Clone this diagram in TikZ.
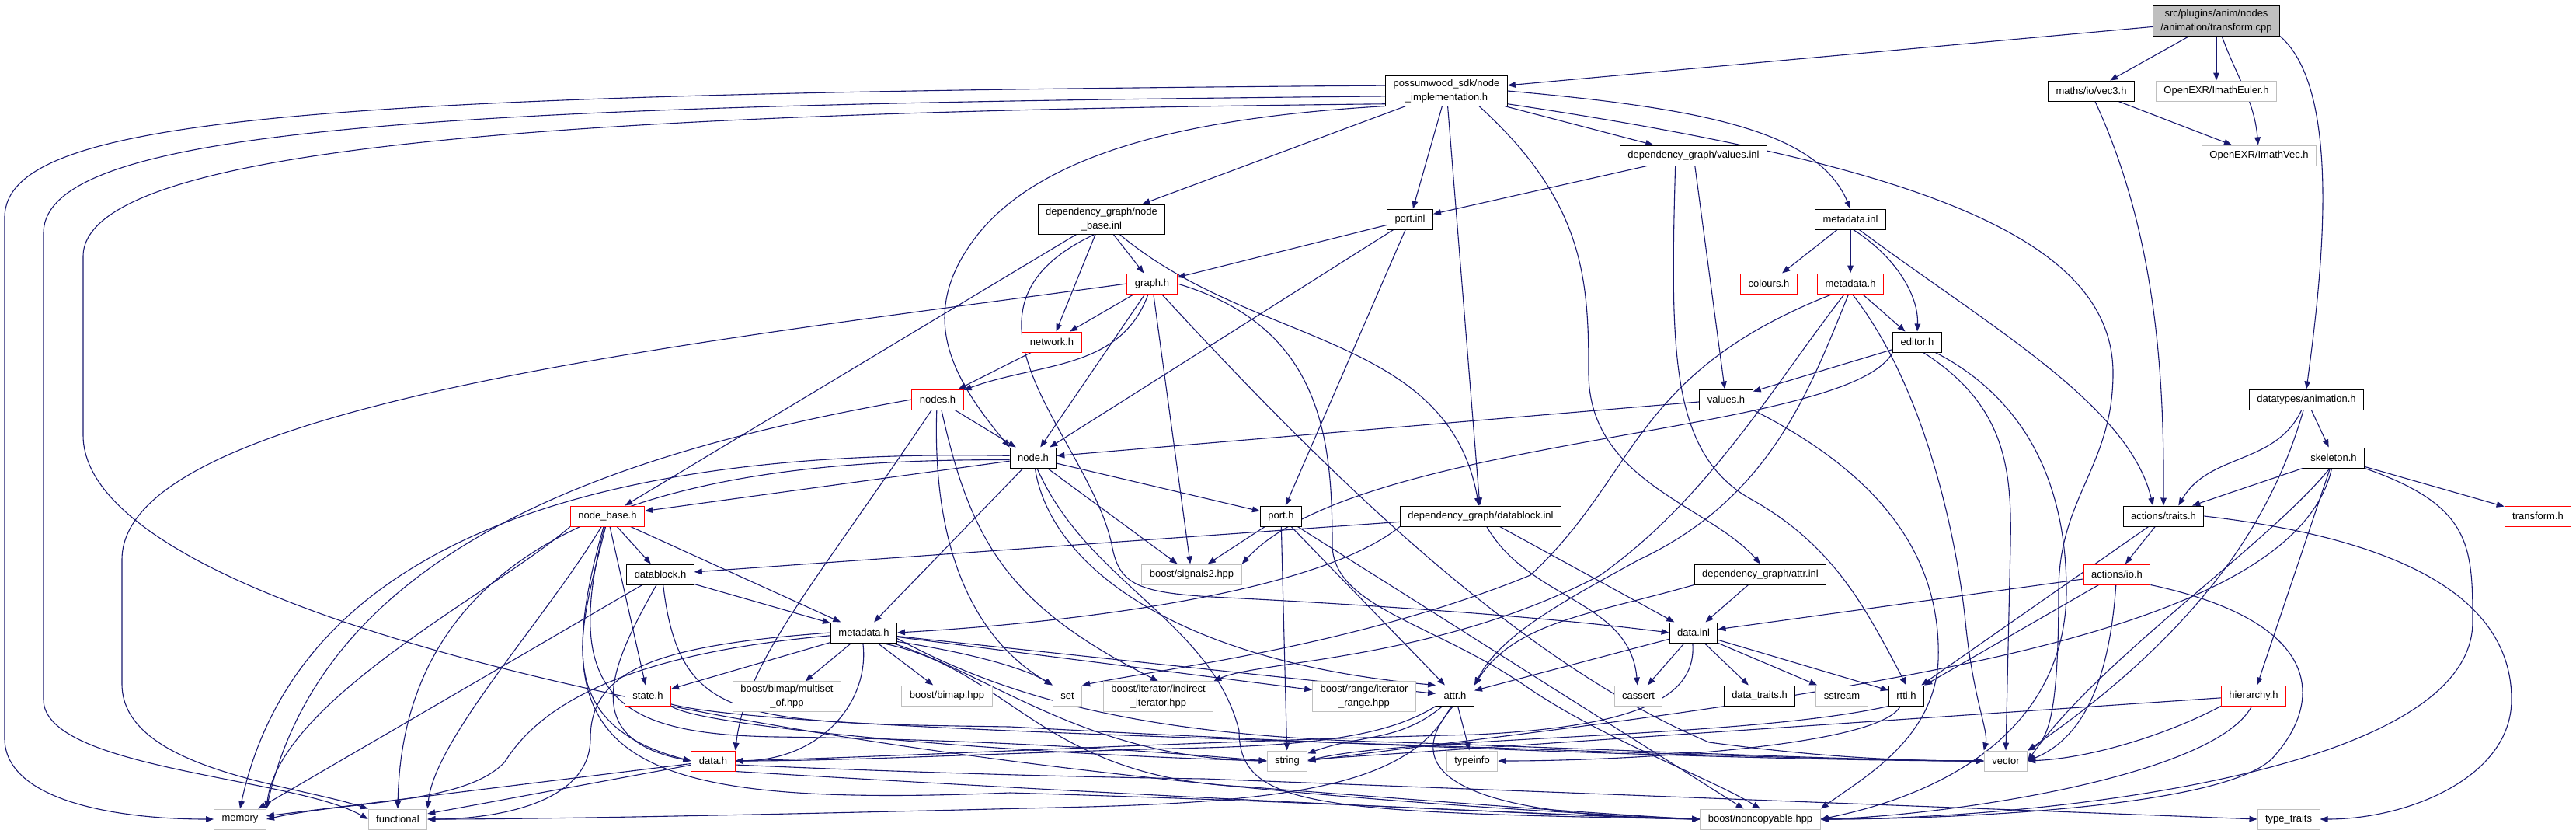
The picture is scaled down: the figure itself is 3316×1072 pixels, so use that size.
\documentclass[tikz,border=0pt]{standalone}
\usepackage{fontspec}
\setmainfont{Liberation Sans}
\usepackage{xcolor}
\usetikzlibrary{arrows.meta}
\definecolor{edge-blue}{HTML}{191970}
\definecolor{sys-gray}{HTML}{BFBFBF}
\definecolor{trunc-red}{HTML}{FF0000}
\pgfdeclarelayer{edges}
\pgfsetlayers{edges,main}

\begin{document}
\begin{tikzpicture}[x=0.5pt, y=0.5pt,
        every node/.style={font=\fontsize{6.5}{9}\selectfont},
        hdr/.style={draw=black, fill=white, line width=0.5pt, inner xsep=5pt,
          inner ysep=2pt, minimum height=13pt, align=center},
        trunc/.style={hdr, draw=trunc-red},
        sys/.style={hdr, draw=sys-gray},
        incl/.style={draw=edge-blue, line width=0.55pt,
          -{Triangle[length=5pt,width=3.8pt]}}]
      \useasboundingbox (0,0) rectangle (3316,-1072);
      % files, one row per rank
      \node[hdr, fill=sys-gray] (root) at (2853,-27) {src/plugins/anim/nodes\\/animation/transform.cpp};
      \node[hdr] (impl) at (1862,-117) {possumwood\_sdk/node\\\_implementation.h};
      \node[hdr] (vec3) at (2692,-117) {maths/io/vec3.h};
      \node[sys] (euler) at (2853,-117) {OpenEXR/ImathEuler.h};
      \node[hdr] (valinl) at (2180,-200) {dependency\_graph/values.inl};
      \node[sys] (imvec) at (2908,-200) {OpenEXR/ImathVec.h};
      \node[hdr] (nbinl) at (1418,-282) {dependency\_graph/node\\\_base.inl};
      \node[hdr] (portinl) at (1815,-282) {port.inl};
      \node[hdr] (metainl) at (2382,-282) {metadata.inl};
      \node[trunc] (graph) at (1483,-365) {graph.h};
      \node[trunc] (colours) at (2277,-365) {colours.h};
      \node[trunc] (sdkmeta) at (2382,-365) {metadata.h};
      \node[trunc] (network) at (1354,-440) {network.h};
      \node[hdr] (editor) at (2468,-440) {editor.h};
      \node[trunc] (nodes) at (1207,-514) {nodes.h};
      \node[hdr] (values) at (2222,-514) {values.h};
      \node[hdr] (anim) at (2969,-514) {datatypes/animation.h};
      \node[hdr] (node) at (1330,-589) {node.h};
      \node[hdr] (skel) at (3004,-589) {skeleton.h};
      \node[trunc] (nodebase) at (782,-664) {node\_base.h};
      \node[hdr] (port) at (1649,-664) {port.h};
      \node[hdr] (dbinl) at (1906,-664) {dependency\_graph/datablock.inl};
      \node[hdr] (traits) at (2785,-664) {actions/traits.h};
      \node[trunc] (xform) at (3267,-664) {transform.h};
      \node[hdr] (datablock) at (850,-739) {datablock.h};
      \node[sys] (signals) at (1534,-739) {boost/signals2.hpp};
      \node[hdr] (attrinl) at (2266,-739) {dependency\_graph/attr.inl};
      \node[trunc] (io) at (2725,-739) {actions/io.h};
      \node[hdr] (meta) at (1112,-814) {metadata.h};
      \node[hdr] (datainl) at (2180,-814) {data.inl};
      \node[trunc] (state) at (834,-895) {state.h};
      \node[sys] (multiset) at (1013,-896) {boost/bimap/multiset\\\_of.hpp};
      \node[sys] (bimap) at (1219,-895) {boost/bimap.hpp};
      \node[sys] (set) at (1374,-895) {set};
      \node[sys] (indirect) at (1491,-896) {boost/iterator/indirect\\\_iterator.hpp};
      \node[sys] (range) at (1756,-896) {boost/range/iterator\\\_range.hpp};
      \node[hdr] (attr) at (1873,-895) {attr.h};
      \node[sys] (cassert) at (2109,-895) {cassert};
      \node[hdr] (dtraits) at (2265,-895) {data\_traits.h};
      \node[sys] (sstream) at (2371,-895) {sstream};
      \node[hdr] (rtti) at (2454,-895) {rtti.h};
      \node[trunc] (hier) at (2901,-895) {hierarchy.h};
      \node[trunc] (data) at (918,-979) {data.h};
      \node[sys] (string) at (1657,-979) {string};
      \node[sys] (typeinfo) at (1895,-979) {typeinfo};
      \node[sys] (vector) at (2582,-979) {vector};
      \node[sys] (memory) at (309,-1054) {memory};
      \node[sys] (functional) at (512,-1054) {functional};
      \node[sys] (noncopy) at (2266,-1054) {boost/noncopyable.hpp};
      \node[sys] (typetraits) at (2946,-1054) {type\_traits};

      \begin{pgfonlayer}{edges}
      \fill[white] (0,0) rectangle (3316,-1072);
      % transform.cpp
      \draw[incl] (root) -- (impl);
      \draw[incl] (root) -- (vec3);
      \draw[incl] (root) -- (euler);
      \draw[incl] (root) to[out=-70,in=95] (imvec);
      \draw[incl] (root.south east) .. controls (3020,-120) and (2985,-380) .. (anim.north);
      \draw[incl] (vec3) -- (imvec);
      \draw[incl] (vec3.-70) .. controls (2775,-300) and (2786,-480) .. (traits.north);
      % node_implementation.h
      \draw[incl] (impl.175) .. controls (400,-120) and (6,-150) .. (6,-280) -- (6,-950)
            .. controls (6,-1030) and (150,-1054) .. (memory.west);
      \draw[incl] (impl.185) .. controls (550,-135) and (56,-165) .. (56,-300) -- (56,-900)
            .. controls (56,-990) and (380,-1000) .. (functional.west);
      \draw[incl] (impl.192) .. controls (700,-145) and (107,-190) .. (107,-330) -- (107,-560)
            .. controls (107,-790) and (1000,-1000) .. (noncopy.west);
      \draw[incl] (impl) -- (nbinl);
      \draw[incl] (impl.south west) .. controls (1550,-150) and (1350,-190) .. (1260,-300)
            .. controls (1180,-400) and (1220,-480) .. (node.north west);
      \draw[incl] (impl) -- (portinl);
      \draw[incl] (impl) -- (dbinl);
      \draw[incl] (impl.-25) .. controls (2040,-260) and (2045,-360) .. (2045,-480)
            .. controls (2045,-620) and (2200,-650) .. (attrinl.north);
      \draw[incl] (impl) -- (valinl);
      \draw[incl] (impl.east) .. controls (2200,-140) and (2340,-170) .. (metainl.north);
      \draw[incl] (impl.-12) .. controls (2450,-210) and (2720,-300) .. (2720,-480)
            .. controls (2720,-600) and (2650,-640) .. (2650,-760)
            .. controls (2650,-900) and (2640,-950) .. (vector.north east);
      % values.inl, node_base.inl, port.inl, metadata.inl
      \draw[incl] (valinl) -- (portinl);
      \draw[incl] (valinl) -- (values);
      \draw[incl] (valinl.-150) .. controls (2150,-450) and (2150,-580) .. (2250,-640)
            .. controls (2360,-700) and (2400,-780) .. (rtti.north);
      \draw[incl] (nbinl) -- (nodebase);
      \draw[incl] (nbinl) -- (graph);
      \draw[incl] (nbinl) -- (network);
      \draw[incl] (nbinl) to[out=-40,in=100] (dbinl);
      \draw[incl] (nbinl.-115) .. controls (1200,-400) and (1400,-560) .. (1431,-700)
            .. controls (1440,-750) and (1460,-762) .. (1560,-768)
            .. controls (1800,-780) and (2000,-795) .. (datainl.west);
      \draw[incl] (portinl) -- (graph);
      \draw[incl] (portinl) -- (node);
      \draw[incl] (portinl) -- (port);
      \draw[incl] (metainl) -- (colours);
      \draw[incl] (metainl) -- (sdkmeta);
      \draw[incl] (metainl.-75) .. controls (2440,-330) and (2470,-380) .. (editor.north);
      \draw[incl] (metainl.-50) .. controls (2560,-420) and (2740,-520) .. (traits.135);
      % graph.h, network.h, nodes.h
      \draw[incl] (graph) -- (network);
      \draw[incl] (graph) to[out=-110,in=20] (nodes);
      \draw[incl] (graph) -- (node);
      \draw[incl] (graph) -- (signals);
      \draw[incl] (graph.west) .. controls (900,-440) and (157,-520) .. (157,-720) -- (157,-880)
            .. controls (157,-990) and (380,-1010) .. (functional.north west);
      \draw[incl] (graph.east) .. controls (1700,-420) and (1715,-560) .. (1715,-700)
            .. controls (1715,-780) and (1840,-800) .. (1960,-880)
            .. controls (2060,-950) and (2200,-1000) .. (noncopy.north);
      \draw[incl] (graph) .. controls (1700,-600) and (1950,-850) .. (2200,-955)
            .. controls (2350,-975) and (2450,-979) .. (vector.west);
      \draw[incl] (network) -- (nodes);
      \draw[incl] (nodes) -- (node);
      \draw[incl] (nodes.west) .. controls (800,-580) and (420,-700) .. (memory.north east);
      \draw[incl] (nodes.-95) .. controls (1200,-700) and (1250,-820) .. (set.north west);
      \draw[incl] (nodes.-70) .. controls (1250,-700) and (1300,-780) .. (indirect.north);
      \draw[incl] (nodes.-120) .. controls (1050,-750) and (960,-850) .. (data.north east);
      % node.h, node_base.h, datablock.h
      \draw[incl] (node) -- (nodebase);
      \draw[incl] (node) -- (port);
      \draw[incl] (node) -- (meta);
      \draw[incl] (node) -- (signals);
      \draw[incl] (node.-80) .. controls (1350,-720) and (1500,-850) .. (attr.north west);
      \draw[incl] (node.-70) .. controls (1400,-750) and (1560,-800) .. (1595,-940)
            .. controls (1595,-1040) and (1700,-1045) .. (noncopy.west);
      \draw[incl] (node.175) .. controls (950,-580) and (400,-620) .. (memory.north);
      \draw[incl] (node.185) .. controls (950,-590) and (520,-640) .. (functional.north);
      \draw[incl] (nodebase) -- (datablock);
      \draw[incl] (nodebase) -- (meta);
      \draw[incl] (nodebase) -- (state);
      \draw[incl] (nodebase.-100) .. controls (750,-800) and (700,-930) .. (data.west);
      \draw[incl] (nodebase.south west) .. controls (640,-760) and (360,-900) .. (memory.north east);
      \draw[incl] (nodebase.-120) .. controls (700,-800) and (560,-950) .. (functional.north east);
      \draw[incl] (nodebase.-105) .. controls (720,-900) and (800,-945) .. (1000,-948)
            .. controls (1300,-952) and (1500,-968) .. (string.west);
      \draw[incl] (nodebase.-110) .. controls (690,-980) and (800,-1040) .. (1300,-1020)
            .. controls (1800,-1035) and (2000,-1050) .. (noncopy.west);
      \draw[incl] (datablock) -- (meta);
      \draw[incl] (datablock) -- (memory);
      \draw[incl] (datablock.-110) .. controls (790,-850) and (740,-950) .. (data.west);
      \draw[incl] (datablock.-75) .. controls (875,-930) and (950,-930) .. (1300,-935)
            .. controls (1800,-962) and (2300,-979) .. (vector.west);
      % datablock.inl, metadata.h
      \draw[incl] (dbinl) -- (datablock);
      \draw[incl] (dbinl.south west) .. controls (1700,-760) and (1400,-800) .. (meta.east);
      \draw[incl] (dbinl) -- (datainl);
      \draw[incl] (dbinl) to[out=-60,in=95] (cassert);
      \draw[incl] (meta) -- (state);
      \draw[incl] (meta) -- (multiset);
      \draw[incl] (meta) -- (bimap);
      \draw[incl] (meta.-15) .. controls (1250,-840) and (1320,-860) .. (set.north west);
      \draw[incl] (meta) -- (range);
      \draw[incl] (meta) -- (attr);
      \draw[incl] (meta.-95) .. controls (1120,-900) and (1060,-978) .. (data.east);
      \draw[incl] (meta.west) .. controls (850,-830) and (760,-860) .. (760,-950)
            .. controls (760,-1040) and (620,-1054) .. (functional.east);
      \draw[incl] (meta.185) .. controls (820,-840) and (700,-900) .. (650,-980)
            .. controls (600,-1035) and (450,-1030) .. (memory.east);
      \draw[incl] (meta.-20) .. controls (1280,-870) and (1400,-975) .. (string.west);
      \draw[incl] (meta.-10) .. controls (1300,-900) and (1480,-948) .. (1800,-955)
            .. controls (2100,-965) and (2400,-979) .. (vector.west);
      \draw[incl] (meta.-30) .. controls (1300,-860) and (1340,-1000) .. (1600,-1012)
            .. controls (1900,-1035) and (2100,-1050) .. (noncopy.west);
      % state.h, attr.h, data.inl, rtti.h, data.h
      \draw[incl] (state.south east) .. controls (900,-935) and (1300,-970) .. (string.west);
      \draw[incl] (state.-20) .. controls (950,-930) and (1400,-945) .. (1800,-958)
            .. controls (2100,-968) and (2400,-979) .. (vector.west);
      \draw[incl] (attr) to[out=-140,in=20] (string);
      \draw[incl] (attr) -- (typeinfo);
      \draw[incl] (attr.south west) .. controls (1790,-945) and (1700,-958) .. (1550,-962)
            .. controls (1300,-968) and (1100,-979) .. (data.east);
      \draw[incl] (attr.-110) .. controls (1820,-1000) and (1700,-1030) .. (1400,-1038)
            .. controls (1000,-1048) and (700,-1054) .. (functional.east);
      \draw[incl] (attr.-100) .. controls (1790,-1000) and (1900,-1050) .. (noncopy.west);
      \draw[incl] (datainl) -- (cassert);
      \draw[incl] (datainl) -- (dtraits);
      \draw[incl] (datainl) -- (sstream);
      \draw[incl] (datainl) -- (rtti);
      \draw[incl] (datainl) -- (attr);
      \draw[incl] (datainl.-95) .. controls (2185,-900) and (2100,-935) .. (1900,-945)
            .. controls (1500,-955) and (1200,-972) .. (data.east);
      \draw[incl] (rtti.south west) .. controls (2250,-950) and (1800,-948) .. (string.east);
      \draw[incl] (rtti.-120) .. controls (2420,-960) and (2100,-979) .. (typeinfo.east);
      \draw[incl] (data) -- (memory);
      \draw[incl] (data) -- (functional);
      \draw[incl] (data.south east) .. controls (1400,-1020) and (1900,-1045) .. (noncopy.west);
      \draw[incl] (data.-10) .. controls (1200,-995) and (1400,-1000) .. (1550,-1002) -- (typetraits.west);
      % values.h, editor.h, metadata.h of the sdk
      \draw[incl] (values) -- (node);
      \draw[incl] (values.south east) .. controls (2400,-600) and (2500,-700) .. (2495,-850)
            .. controls (2490,-950) and (2400,-1000) .. (noncopy.north east);
      \draw[incl] (editor) -- (values);
      \draw[incl] (editor.south west) .. controls (2380,-560) and (1750,-560) .. (signals.north east);
      \draw[incl] (editor.-60) .. controls (2580,-520) and (2590,-600) .. (2588,-700) -- (vector.north);
      \draw[incl] (editor.-30) .. controls (2620,-520) and (2660,-640) .. (2660,-760)
            .. controls (2660,-900) and (2560,-1010) .. (noncopy.east);
      \draw[incl] (sdkmeta) -- (editor);
      \draw[incl] (sdkmeta.-150) .. controls (2100,-480) and (2110,-610) .. (1970,-740)
            .. controls (1750,-830) and (1500,-860) .. (set.north east);
      \draw[incl] (sdkmeta.-120) .. controls (2280,-500) and (2200,-640) .. (2060,-740)
            .. controls (1850,-850) and (1620,-850) .. (indirect.north east);
      \draw[incl] (sdkmeta.-100) .. controls (2330,-500) and (2280,-640) .. (2110,-720)
            .. controls (2000,-780) and (1930,-820) .. (attr.north east);
      \draw[incl] (sdkmeta.-80) .. controls (2480,-500) and (2520,-700) .. (2530,-800)
            .. controls (2540,-900) and (2560,-940) .. (vector.north west);
      % animation, skeleton, actions
      \draw[incl] (anim) to[out=-115,in=60] (traits.35);
      \draw[incl] (anim) -- (skel);
      \draw[incl] (anim) .. controls (2930,-650) and (2850,-800) .. (vector.north east);
      \draw[incl] (skel) -- (traits.20);
      \draw[incl] (skel) -- (xform);
      \draw[incl] (skel) -- (hier);
      \draw[incl] (skel.-110) .. controls (2920,-700) and (2700,-850) .. (vector.east);
      \draw[incl] (skel.-100) .. controls (2975,-720) and (2800,-800) .. (2500,-860)
            .. controls (2200,-920) and (1900,-950) .. (string.east);
      \draw[incl] (skel.south east) .. controls (3180,-650) and (3183,-700) .. (3183,-800)
            .. controls (3183,-1000) and (2600,-1054) .. (noncopy.east);
      \draw[incl] (traits) -- (io);
      \draw[incl] (traits) -- (rtti);
      \draw[incl] (traits.east) .. controls (3150,-700) and (3233,-800) .. (3233,-900)
            .. controls (3233,-1000) and (3100,-1054) .. (typetraits.east);
      \draw[incl] (io) -- (datainl);
      \draw[incl] (io) -- (rtti);
      \draw[incl] (io.south east) .. controls (2990,-800) and (2990,-900) .. (2930,-970)
            .. controls (2880,-1040) and (2500,-1054) .. (noncopy.east);
      \draw[incl] (io.-95) .. controls (2715,-880) and (2680,-950) .. (vector.east);
      \draw[incl] (hier.south west) .. controls (2800,-940) and (2700,-975) .. (vector.east);
      \draw[incl] (hier) -- (string);
      \draw[incl] (hier.-100) .. controls (2850,-1000) and (2500,-1050) .. (noncopy.east);
      % port.h, attr.inl
      \draw[incl] (port) -- (signals);
      \draw[incl] (port) -- (string);
      \draw[incl] (port) -- (attr);
      \draw[incl] (port) -- (noncopy);
      \draw[incl] (attrinl) -- (datainl);
      \draw[incl] (attrinl.south west) .. controls (2050,-790) and (1950,-800) .. (attr.north east);
      \end{pgfonlayer}
    \end{tikzpicture}
\end{document}
